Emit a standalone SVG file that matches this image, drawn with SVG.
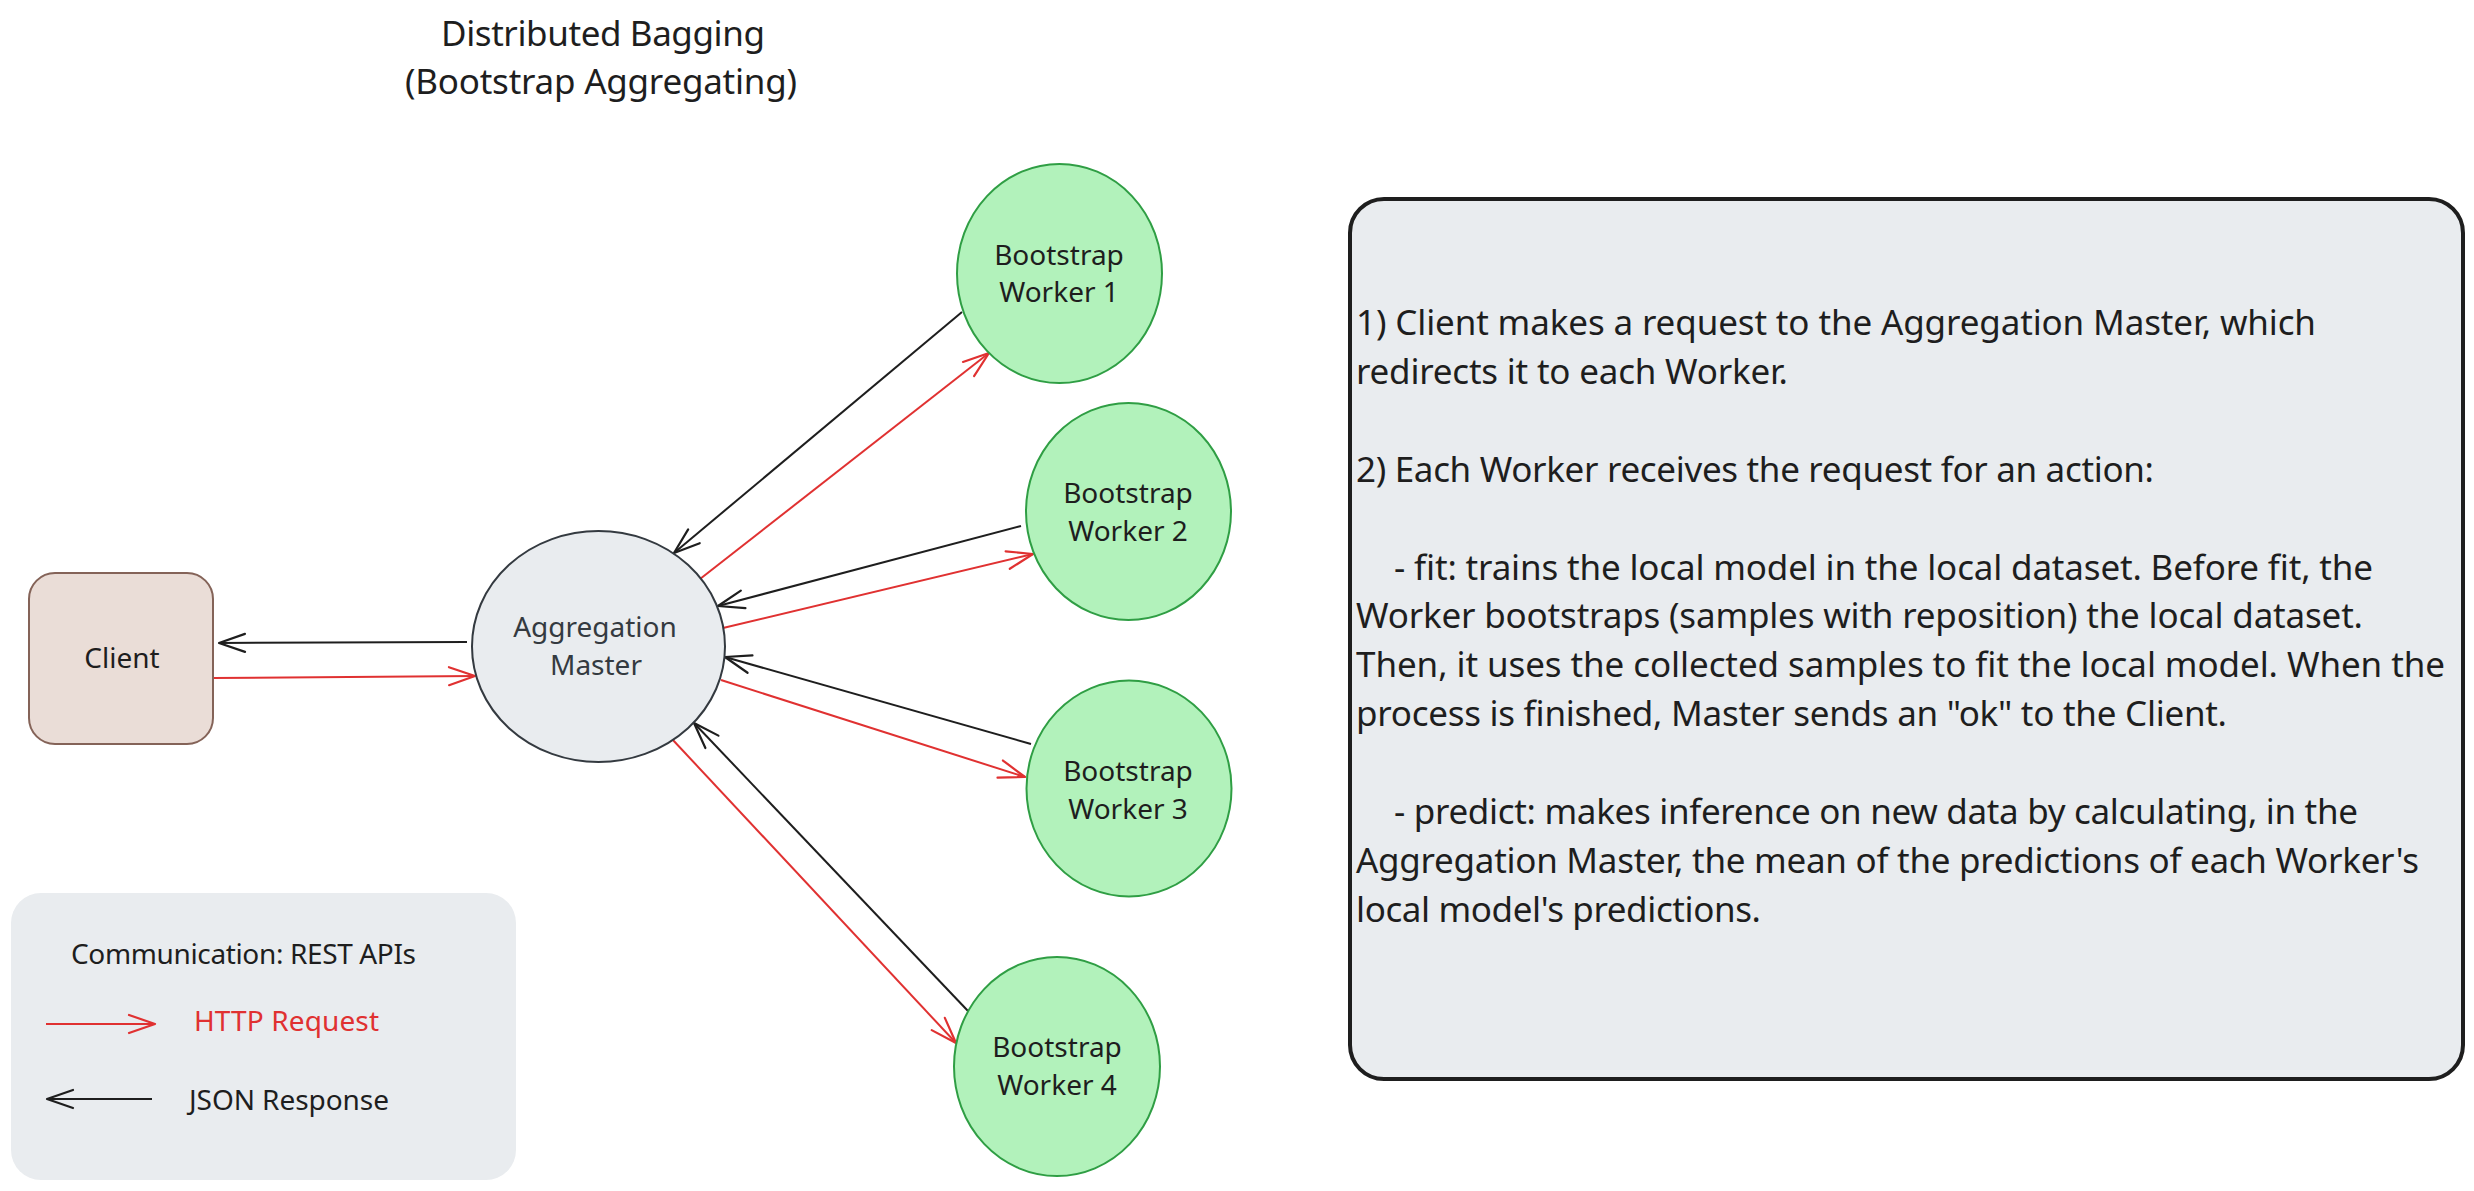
<svg xmlns="http://www.w3.org/2000/svg" width="2474" height="1191" viewBox="0 0 2474 1191">
<style>
text{font-family:"Noto Sans","Liberation Sans",sans-serif;fill:#1e1e1e}
.lbl{font-size:28px;text-anchor:middle}
.title{font-size:35px}
.note{font-size:35px}
.leg{font-size:28px}
.worker{fill:#b2f2bb;stroke:#2f9e44;stroke-width:2}
.req{stroke:#e03131;stroke-width:2;fill:none}
.res{stroke:#1e1e1e;stroke-width:2;fill:none}
</style>
<defs>
<marker id="ahR" markerUnits="userSpaceOnUse" markerWidth="40" markerHeight="40" refX="0" refY="0" orient="auto" overflow="visible">
<path d="M-26,-9 L0,0 L-26,9" fill="none" stroke="#e03131" stroke-width="2.2" stroke-linecap="round" stroke-linejoin="round"/>
</marker>
<marker id="ahK" markerUnits="userSpaceOnUse" markerWidth="40" markerHeight="40" refX="0" refY="0" orient="auto" overflow="visible">
<path d="M-26,-9 L0,0 L-26,9" fill="none" stroke="#1e1e1e" stroke-width="2.2" stroke-linecap="round" stroke-linejoin="round"/>
</marker>
</defs>
<rect width="2474" height="1191" fill="#ffffff"/>

<g id="title">
<text class="title" x="441" y="46" textLength="324">Distributed Bagging</text>
<text class="title" x="405" y="94" textLength="392">(Bootstrap Aggregating)</text>
</g>

<g id="connectors">
<line class="res" x1="467" y1="642" x2="219" y2="643" marker-end="url(#ahK)"/>
<line class="req" x1="213" y1="678" x2="475" y2="676" marker-end="url(#ahR)"/>
<line class="res" x1="962" y1="312" x2="674" y2="553" marker-end="url(#ahK)"/>
<line class="req" x1="700" y1="579" x2="989" y2="353" marker-end="url(#ahR)"/>
<line class="res" x1="1021" y1="526" x2="718" y2="606" marker-end="url(#ahK)"/>
<line class="req" x1="723" y1="628" x2="1033" y2="554" marker-end="url(#ahR)"/>
<line class="res" x1="1031" y1="744" x2="725" y2="657" marker-end="url(#ahK)"/>
<line class="req" x1="721" y1="680" x2="1025" y2="777" marker-end="url(#ahR)"/>
<line class="res" x1="968" y1="1011" x2="694" y2="723" marker-end="url(#ahK)"/>
<line class="req" x1="672" y1="739" x2="956" y2="1043" marker-end="url(#ahR)"/>
</g>

<g id="client">
<rect x="29" y="573" width="184" height="171" rx="26" fill="#eaddd7" stroke="#846358" stroke-width="2"/>
<text class="lbl" x="122" y="668">Client</text>
</g>

<g id="master">
<ellipse cx="598.5" cy="646.5" rx="126.5" ry="115.5" fill="#e9ecef" stroke="#343a40" stroke-width="2"/>
<text class="lbl" x="595" y="637" style="fill:#343a40">Aggregation</text>
<text class="lbl" x="596" y="675" style="fill:#343a40">Master</text>
</g>

<g id="worker1">
<ellipse class="worker" cx="1059.5" cy="273.5" rx="102.5" ry="109.5"/>
<text class="lbl" x="1059" y="265">Bootstrap</text>
<text class="lbl" x="1059" y="302">Worker 1</text>
</g>

<g id="worker2">
<ellipse class="worker" cx="1128.5" cy="511.5" rx="102.5" ry="108.5"/>
<text class="lbl" x="1128" y="503">Bootstrap</text>
<text class="lbl" x="1128" y="541">Worker 2</text>
</g>

<g id="worker3">
<ellipse class="worker" cx="1129" cy="788.5" rx="102.5" ry="108"/>
<text class="lbl" x="1128" y="781">Bootstrap</text>
<text class="lbl" x="1128" y="819">Worker 3</text>
</g>

<g id="worker4">
<ellipse class="worker" cx="1057" cy="1066.5" rx="103" ry="109.5"/>
<text class="lbl" x="1057" y="1057">Bootstrap</text>
<text class="lbl" x="1057" y="1095">Worker 4</text>
</g>

<g id="legend">
<rect x="11" y="893" width="505" height="287" rx="30" fill="#e9ecef"/>
<text class="leg" x="71" y="964" textLength="345">Communication: REST APIs</text>
<line class="req" x1="46" y1="1024" x2="155" y2="1024" marker-end="url(#ahR)"/>
<text class="leg" x="194" y="1031" textLength="185" style="fill:#e03131">HTTP Request</text>
<line class="res" x1="152" y1="1099" x2="47" y2="1099" marker-end="url(#ahK)"/>
<text class="leg" x="189" y="1110" textLength="200">JSON Response</text>
</g>

<g id="notes">
<rect x="1350" y="199" width="1113" height="880" rx="34" fill="#e9ecef" stroke="#1e1e1e" stroke-width="4"/>
<text class="note" x="1356" y="335" textLength="960">1) Client makes a request to the Aggregation Master, which</text>
<text class="note" x="1356" y="384" textLength="432">redirects it to each Worker.</text>
<text class="note" x="1356" y="482" textLength="798">2) Each Worker receives the request for an action:</text>
<text class="note" x="1394" y="580" textLength="979">- fit: trains the local model in the local dataset. Before fit, the</text>
<text class="note" x="1356" y="628" textLength="1007">Worker bootstraps (samples with reposition) the local dataset.</text>
<text class="note" x="1356" y="677" textLength="1089">Then, it uses the collected samples to fit the local model. When the</text>
<text class="note" x="1356" y="726" textLength="871">process is finished, Master sends an "ok" to the Client.</text>
<text class="note" x="1394" y="824" textLength="964">- predict: makes inference on new data by calculating, in the</text>
<text class="note" x="1356" y="873" textLength="1063">Aggregation Master, the mean of the predictions of each Worker's</text>
<text class="note" x="1356" y="922" textLength="405">local model's predictions.</text>
</g>
</svg>
